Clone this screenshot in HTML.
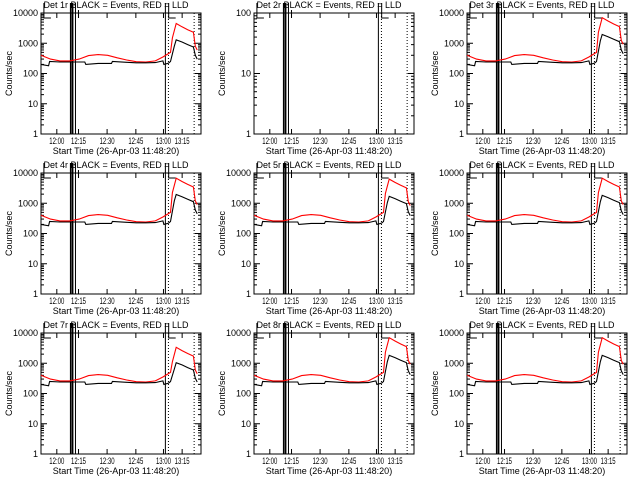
<!DOCTYPE html>
<html><head><meta charset="utf-8"><style>
html,body{margin:0;padding:0;background:#fff;}
svg text{font-family:"Liberation Sans",sans-serif;font-size:9px;fill:#000;}
</style></head><body>
<svg id="c" width="640" height="480" viewBox="0 0 640 480" xmlns="http://www.w3.org/2000/svg"></svg>
<script>
const detectors = ["1r","2r","3r","4r","5r","6r","7r","8r","9r"];
const blackTimes = [0,4,4.5,10,15,20,23,23.5,30,37,37.5,45,50,55,60,64,64.5,67,68,70,71,74,77,80,81,82];
const blackVals = [200,180,250,240,240,240,240,200,215,215,250,235,225,225,230,260,200,220,250,800,1300,1100,900,750,400,300];
const redTimes = [0,5,10,15,20,25,30,35,40,45,50,55,60,64,66,68,69,71,74,77,80,81,82];
const redVals = [400,300,260,260,300,390,420,400,330,280,245,240,260,350,420,500,1500,4500,3500,2800,2300,800,600];
const flareScaleBlack = [1,0,1.5,1.5,1.3,1.4,0.8,1.4,1.4];
const flareScaleRed = [1,0,1.55,1.5,1.4,1.5,0.75,1.55,1.55];
const tickMinutes = [8.3,19.7,34.7,49.8,64.3,74.1];
const tickLabels = ["12:00","12:15","12:30","12:45","13:00","13:15"];
const yTicksFull = [1,10,100,1000,10000];
const yTicksShort = [1,10,100];
const vSolid = [15.6,16.6,18.1,65.3];
const vDotted = [66.9,80.4];

const svg = document.getElementById('c');
const NS = "http://www.w3.org/2000/svg";
function mk(tag, attrs, parent){const e=document.createElementNS(NS,tag);for(const k in attrs)e.setAttribute(k,attrs[k]);parent.appendChild(e);return e;}

const colX = [41,254,467], rowY = [13,173,333];
const PW = 160, PH = 121, TMAX = 84;

detectors.forEach((det, i) => {
  const x0 = colX[i%3], y0 = rowY[Math.floor(i/3)];
  const g = mk('g', {}, svg);
  
  
  const empty = (i === 1);
  const ymax = empty ? 100 : 10000;
  const decades = Math.log10(ymax);
  const xs = t => x0 + t / TMAX * PW;
  const ys = v => y0 + PH - Math.log10(v) / decades * PH;

  const title = mk('text', {x: x0 + PW/2 - 5, y: y0 - 5, 'text-anchor': 'middle'}, g);
  title.textContent = 'Det ' + det + ' BLACK = Events, RED = LLD';
  
  

  const frame = mk('rect', {x: x0, y: y0, width: PW, height: PH, fill: 'none', stroke: '#000', 'stroke-width': 1}, g);
  
  

  const yt = empty ? yTicksShort : yTicksFull;
  yt.forEach(v => {
    const y = ys(v);
    const lab = mk('text', {x: x0 - 3, y: y + 3, 'text-anchor': 'end', 'font-size': 8}, g);
    lab.textContent = String(v);
    
    
    mk('line', {x1: x0, x2: x0 + 6, y1: y, y2: y, stroke: '#000'}, g);
    mk('line', {x1: x0 + PW, x2: x0 + PW - 6, y1: y, y2: y, stroke: '#000'}, g);
    if (v < ymax) for (let m = 2; m < 10; m++) {
      const yy = ys(v * m);
      mk('line', {x1: x0, x2: x0 + 3, y1: yy, y2: yy, stroke: '#000'}, g);
      mk('line', {x1: x0 + PW, x2: x0 + PW - 3, y1: yy, y2: yy, stroke: '#000'}, g);
    }
  });
  const yt2 = mk('text', {x: 0, y: 0, transform: `translate(${x0 - 29},${y0 + PH/2}) rotate(-90)`, 'text-anchor': 'middle', 'font-size': 8}, g);
  yt2.textContent = 'Counts/sec';
  
  

  tickMinutes.forEach((t, k) => {
    const x = xs(t);
    mk('line', {x1: x, x2: x, y1: y0 + PH, y2: y0 + PH - 5, stroke: '#000'}, g);
    mk('line', {x1: x, x2: x, y1: y0, y2: y0 + 5, stroke: '#000'}, g);
    const lab = mk('text', {x: x - 7.5, y: y0 + PH + 10, 'font-size': 8, textLength: 15, lengthAdjust: 'spacingAndGlyphs'}, g);
    lab.textContent = tickLabels[k];
    
    
  });
  const xt = mk('text', {x: x0 + PW/2 - 5, y: y0 + PH + 20, 'text-anchor': 'middle'}, g);
  xt.textContent = 'Start Time (26-Apr-03 11:48:20)';
  
  

  vSolid.forEach((t, k) => {
    const l = mk('line', {x1: xs(t), x2: xs(t), y1: y0 - 10, y2: y0 + PH, stroke: '#000', 'stroke-width': k < 2 ? 1.6 : 1}, g);
    
    
  });
  vDotted.forEach(t => {
    const l = mk('line', {x1: xs(t), x2: xs(t), y1: y0, y2: y0 + PH, stroke: '#000', 'stroke-dasharray': '1,2'}, g);
    
    
  });
  [1, 66.5].forEach(t => {
    const x = xs(t);
    mk('path', {d: `M${x+1},${y0-10} V${y0+5} H${x+8}`, fill: 'none', stroke: '#000'}, g);
  });
  mk('path', {d: `M${xs(18.1)+3},${y0-3} V${y0+5}`, fill: 'none', stroke: '#000'}, g);

  if (!empty) {
    const sB = flareScaleBlack[i], sR = flareScaleRed[i];
    const line = (times, vals, s, color, name) => {
      let d = '';
      times.forEach((t, k) => {
        const v = t >= 69 ? vals[k] * s : vals[k];
        d += (k ? 'L' : 'M') + xs(t).toFixed(1) + ',' + ys(v).toFixed(1);
      });
      const p = mk('path', {d: d, fill: 'none', stroke: color, 'stroke-width': 1.1}, g);
      
      
    };
    line(redTimes, redVals, sR, '#ff0000', 'lld-series');
    line(blackTimes, blackVals, sB, '#000000', 'events-series');
  }
});
</script>
</body></html>
